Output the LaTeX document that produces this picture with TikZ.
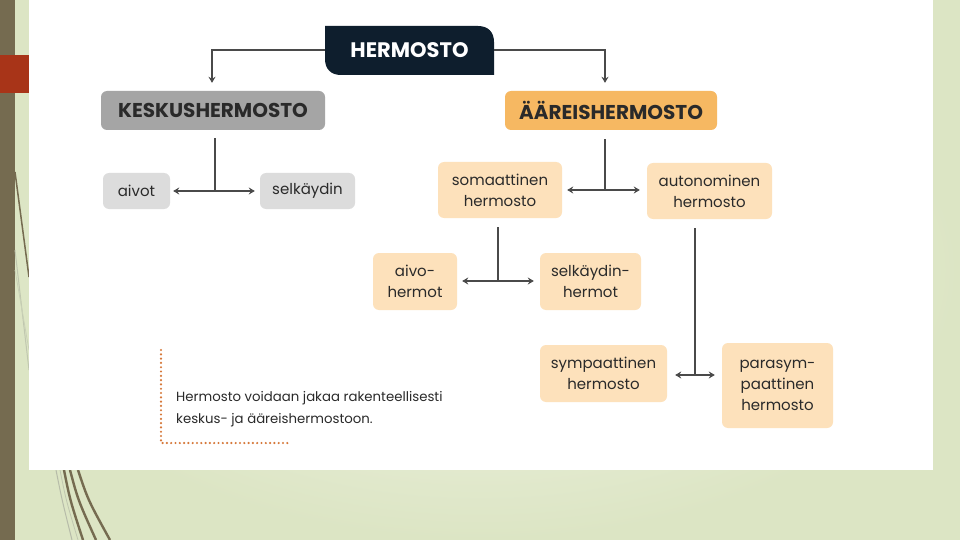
\documentclass[tikz,border=0pt]{standalone}
\usepackage{fontspec}
\setmainfont{Poppins}
\usetikzlibrary{arrows.meta,calc}
\definecolor{navy}{HTML}{0E1E2D}
\definecolor{hgray}{HTML}{A5A5A5}
\definecolor{lgray}{HTML}{DCDCDC}
\definecolor{horange}{HTML}{F6B862}
\definecolor{lorange}{HTML}{FDE1BB}
\definecolor{txt}{HTML}{2A2A2A}
\definecolor{conn}{HTML}{4A4A4A}
\definecolor{dotc}{HTML}{D6783A}
\definecolor{olive}{HTML}{756B50}
\definecolor{redsq}{HTML}{A83418}
\definecolor{bgg}{HTML}{DCE5C4}
\definecolor{bgl}{HTML}{F2F5E8}
\tikzset{
  hdr/.style={rounded corners=6pt, minimum height=39pt, font=\fontsize{20}{24}\selectfont\bfseries, text=txt, inner sep=0pt},
  sub/.style={rounded corners=6pt, align=center, font=\fontsize{15}{21}\selectfont, text=txt, inner sep=0pt},
  conline/.style={draw=conn, line width=2pt},
  arr/.style={conline, -{Stealth[length=6pt,width=7pt]}},
  darr/.style={conline, {Stealth[length=6pt,width=7pt]}-{Stealth[length=6pt,width=7pt]}},
}
\begin{document}
\begin{tikzpicture}[x=1pt,y=-1pt]
\useasboundingbox (0,0) rectangle (960,540);
% background
\shade[inner color=bgl, outer color=bgg] (0,0) rectangle (960,540);
\fill[olive] (0,0) rectangle (15,540);
\fill[redsq] (0,55) rectangle (29,93);
\draw[bgg!70!gray, line width=1pt] (15,250) -- (29,370);
\draw[bgg!80!gray, line width=0.8pt] (15,270) -- (29,350);
\draw[olive, line width=1.5pt] (15,172) -- (29,277);
\draw[bgg!60!gray, line width=1pt] (56,470) .. controls (62,500) .. (72,540);
\draw[bgg!70!gray, line width=0.8pt] (60,470) .. controls (66,500) .. (78,540);
\draw[olive, line width=2.4pt] (64,470) .. controls (70,500) .. (83,540);
\draw[olive, line width=2.4pt] (70,470) .. controls (78,500) .. (96,540);
\draw[olive, line width=2.4pt] (78,470) .. controls (88,500) .. (110,540);
\fill[white] (29,0) rectangle (933,470);
% top node
\fill[navy] (325,26) -- (478,26) .. controls (488,26) and (494,32) .. (494,42) -- (494,75) -- (341,75) .. controls (331,75) and (325,69) .. (325,59) -- cycle;
\node[minimum width=169pt, minimum height=49pt, inner sep=0pt, text=white, font=\fontsize{21}{24}\selectfont\bfseries] (hermosto) at (409.5,50.5) {HERMOSTO};
% headers
\node[hdr, fill=hgray, minimum width=224pt] (keskus) at (213,110.5) {KESKUSHERMOSTO};
\node[hdr, fill=horange, minimum width=212pt] (aareis) at (611,110.5) {ÄÄREISHERMOSTO};
% sub nodes
\node[sub, fill=lgray, minimum width=67pt, minimum height=36pt] (aivot) at (136.5,191) {aivot};
\node[sub, fill=lgray, minimum width=95pt, minimum height=36pt] (selk) at (307.5,191) {selkäydin};
\node[sub, fill=lorange, minimum width=124pt, minimum height=56pt] (soma) at (500,190) {somaattinen\\hermosto};
\node[sub, fill=lorange, minimum width=125pt, minimum height=56pt] (auto) at (709.5,191) {autonominen\\hermosto};
\node[sub, fill=lorange, minimum width=84pt, minimum height=57pt] (aivoh) at (415,281.5) {aivo-\\hermot};
\node[sub, fill=lorange, minimum width=101pt, minimum height=57pt] (selkh) at (590.5,281.5) {selkäydin-\\hermot};
\node[sub, fill=lorange, minimum width=127pt, minimum height=57pt] (symp) at (603.5,373.5) {sympaattinen\\hermosto};
\node[sub, fill=lorange, minimum width=111pt, minimum height=85pt] (para) at (777.5,385.5) {parasym-\\paattinen\\hermosto};
% connectors from top
\draw[arr] (hermosto.west) -| ([xshift=-1pt,yshift=8pt]keskus.north);
\draw[arr] (hermosto.east) -| ([xshift=-6pt,yshift=8pt]aareis.north);
% keskus branch
\coordinate (kj) at (215,191);
\draw[conline] ([yshift=-8pt]keskus.south -| kj) -- (kj);
\draw[darr] ([xshift=3pt]aivot.east |- kj) -- ([xshift=-5pt]selk.west |- kj);
% aareis branch
\coordinate (aj) at (605,190);
\draw[conline] ([yshift=-9pt]aareis.south -| aj) -- (aj);
\draw[darr] ([xshift=5pt]soma.east |- aj) -- ([xshift=-7pt]auto.west |- aj);
% soma branch
\coordinate (sj) at (498,281);
\draw[conline] ([yshift=-9pt]soma.south -| sj) -- (sj);
\draw[darr] ([xshift=5pt]aivoh.east |- sj) -- ([xshift=-6pt]selkh.west |- sj);
% auto branch
\coordinate (tj) at (695,375);
\draw[conline] ([yshift=-9pt]auto.south -| tj) -- (tj);
\draw[darr] ([xshift=8pt]symp.east |- tj) -- ([xshift=-7pt]para.west |- tj);
% caption
\draw[dotc, line width=2.4pt, line cap=round, dash pattern=on 0pt off 4.3pt] (161,350) -- (161,443) -- (290,443);
\node[anchor=base west, inner sep=0pt, text=txt, font=\fontsize{13.3}{16}\selectfont] (cap1) at (176,401) {Hermosto voidaan jakaa rakenteellisesti};
\node[anchor=base west, inner sep=0pt, text=txt, font=\fontsize{13.3}{16}\selectfont] (cap2) at (176,423) {keskus- ja ääreishermostoon.};
\end{tikzpicture}
\end{document}
